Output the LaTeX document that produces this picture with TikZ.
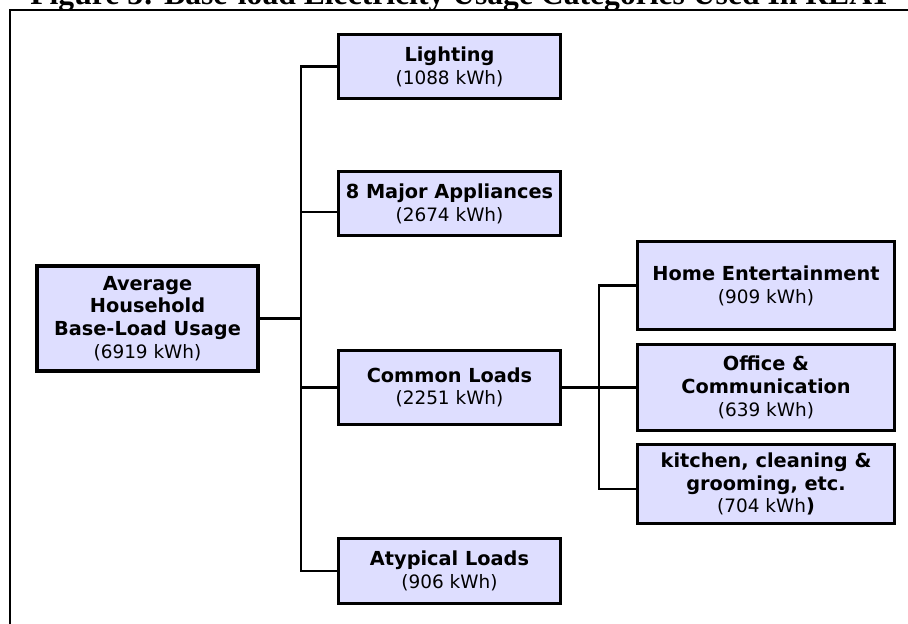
\documentclass[tikz,border=0pt]{standalone}
\usepackage{fontspec}
\setmainfont{DejaVu Sans}
\newfontfamily\titlefont{Liberation Serif}
\usetikzlibrary{positioning}
\definecolor{boxfill}{RGB}{222,222,255}
\newcommand{\hd}[1]{{\fontsize{11}{13}\selectfont\bfseries #1}}

\begin{document}
\begin{tikzpicture}[
            x=0.02cm, y=-0.02cm,
            every node/.style={font=\fontsize{10.5}{13}\selectfont},
            rootbox/.style={
                    rectangle,
                    draw,
                    fill=boxfill,
                    line width=2.4pt,
                    minimum width=4.42cm,
                    minimum height=2.1cm,
                    align=center
                },
            catbox/.style={
                    rectangle,
                    draw,
                    fill=boxfill,
                    line width=1.7pt,
                    inner xsep=2pt,
                    minimum width=4.44cm,
                    minimum height=1.28cm,
                    align=center
                },
            subbox/.style={
                    catbox,
                    minimum width=5.14cm
                },
            wire/.style={
                    line width=1.3pt
                },
            titletext/.style={
                    font=\titlefont\bfseries\fontsize{18}{20}\selectfont,
                    inner sep=0pt
                }
            ]
            \clip (0,0) rectangle (908,623);

            % Title and frame
            \node (title) [titletext, anchor=base west] at (30,4) {Figure 3: Base-load Electricity Usage Categories Used In REAT};
            \draw [line width=1.2pt] (10,700) -- (10,10) -- (1000,10);

            % Root node
            \node (root) [rootbox] at (147.5,318.5) {\hd{Average}\\\hd{Household}\\\hd{Base-Load Usage}\\(6919 kWh)};

            % Categories
            \node (light) [catbox] at (449.5,66.5) {\hd{Lighting}\\(1088 kWh)};

            \node (major) [catbox, below=1.4cm of light] {\hd{8 Major Appliances}\\(2674 kWh)};

            \node (common) [catbox, minimum height=1.48cm, below=2.24cm of major] {\hd{Common Loads}\\(2251 kWh)};

            \node (atyp) [catbox, minimum height=1.3cm, below=2.22cm of common] {\hd{Atypical Loads}\\(906 kWh)};

            % Common loads split
            \node (home) [subbox, minimum height=1.76cm] at (766,285.5) {\hd{Home Entertainment}\\(909 kWh)};

            \node (office) [subbox, minimum height=1.72cm, below=0.24cm of home] {\hd{Office \&}\\\hd{Communication}\\(639 kWh)};

            \node (kitchen) [subbox, minimum height=1.58cm, below=0.22cm of office] {\hd{kitchen, cleaning \&}\\\hd{grooming, etc.}\\(704 kWh\hd{)}};

            % Connectors
            \path (root.east) ++(41,0) coordinate (fork);
            \coordinate (majorin) at ([yshift=-0.17cm]major.west);
            \draw [wire] (root.east) -- (fork);
            \draw [wire] (light.west) -| (fork) |- (atyp.west);
            \draw [wire] (majorin -| fork) -- (majorin);
            \draw [wire] (fork |- common.west) -- (common.west);

            \path (common.east) ++(37,0) coordinate (subfork);
            \coordinate (kitchenin) at ([yshift=-0.1cm]kitchen.west);
            \draw [wire] (common.east) -- (subfork);
            \draw [wire] (home.west) -| (subfork) |- (kitchenin);
            \draw [wire] (subfork) -- (subfork -| office.west);

        \end{tikzpicture}
\end{document}
